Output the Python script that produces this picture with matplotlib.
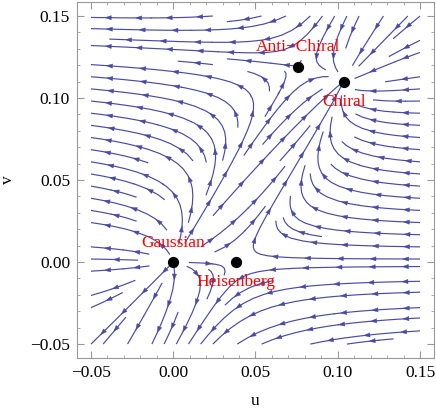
import numpy as np
import matplotlib
matplotlib.use("Agg")
import matplotlib.pyplot as plt
from matplotlib.collections import PolyCollection

# Fixed points of the flow (u, v)
fp_names = ["Gaussian", "Heisenberg", "Anti\u2212Chiral", "Chiral"]
fp_u = [0.0, 0.0384, 0.0756, 0.1036]
fp_v = [0.0, 0.0, 0.119, 0.110]
# label anchor offsets (in data units) relative to each fixed point
lab_du = [0.0, 0.0, 0.0, 0.0]
lab_dv = [0.0118, -0.0122, 0.0118, -0.0125]

# Plot ranges
u_range = [-0.05, 0.15]
v_range = [-0.05, 0.15]
xticks = [-0.05, 0.00, 0.05, 0.10, 0.15]
yticks = [-0.05, 0.00, 0.05, 0.10, 0.15]

# One-loop-type beta functions fitted to the fixed points:
# beta_u = -u + a u^2 + b u v + c v^2 ; beta_v = -v + d v^2 + e u v
a = 1.0 / fp_u[1]
uc, vc = fp_u[3], fp_v[3]
ua, va = fp_u[2], fp_v[2]
d, e = np.linalg.solve([[vc, uc], [va, ua]], [1.0, 1.0])
b, c = np.linalg.solve([[uc * vc, vc * vc], [ua * va, va * va]],
                       [uc - a * uc ** 2, ua - a * ua ** 2])

U, V = np.meshgrid(np.linspace(u_range[0], u_range[1], 200),
                   np.linspace(v_range[0], v_range[1], 200))
bu = -U + a * U ** 2 + b * U * V + c * V ** 2
bv = -V + d * V ** 2 + e * U * V
FU, FV = -bu, -bv

fig = plt.figure(figsize=(4.36, 4.12), dpi=100)
ax = fig.add_axes([0.1766, 0.131, 0.8188, 0.864])
color = (0.29, 0.29, 0.65)

pad = 0.0085
ax.set_xlim(u_range[0] - pad, u_range[1] + pad)
ax.set_ylim(v_range[0] - pad, v_range[1] + pad)

sp = ax.streamplot(U, V, FU, FV, density=0.95, color=color, linewidth=0.85,
                   arrowsize=0.01, arrowstyle='-')

# each segment of the LineCollection is one whole streamline (in flow order);
# put several arrowheads along each one
lines = [np.asarray(s) for s in sp.lines.get_segments()]

spacing = 32.0   # pixels between arrowheads
head_len = 6.0   # pixels
head_half = 2.1  # pixels
inv = ax.transData.inverted()
tris = []
for pts in lines:
    disp = ax.transData.transform(pts)
    dl = np.hypot(*np.diff(disp, axis=0).T)
    keep = np.concatenate([[True], dl > 1e-9])
    disp = disp[keep]
    if len(disp) < 2:
        continue
    dl = np.hypot(*np.diff(disp, axis=0).T)
    cum = np.concatenate([[0], np.cumsum(dl)])
    total = cum[-1]
    if total < 14:
        continue
    n = max(1, int(round(total / spacing)))
    centers = (np.arange(n) + 0.5) * total / n
    for sdist in centers:
        s0, s1 = max(sdist - head_len, 0), min(sdist + 1, total)
        q0 = np.array([np.interp(s0, cum, disp[:, 0]), np.interp(s0, cum, disp[:, 1])])
        q1 = np.array([np.interp(s1, cum, disp[:, 0]), np.interp(s1, cum, disp[:, 1])])
        t = q1 - q0
        nt = np.hypot(*t)
        if nt < 1e-6:
            continue
        t = t / nt
        nrm = np.array([-t[1], t[0]])
        tip = q1
        base = tip - head_len * t
        tri = np.array([tip, base + head_half * nrm, base - head_half * nrm])
        tris.append(inv.transform(tri))

ax.add_collection(PolyCollection(tris, facecolors=[color], edgecolors=[color],
                                 linewidths=0.3, zorder=3))

ax.scatter(fp_u, fp_v, s=50, color='black', zorder=5)
for name, x, y, dx, dy in zip(fp_names, fp_u, fp_v, lab_du, lab_dv):
    ax.text(x + dx, y + dy, name, color='red', fontsize=12.5,
            family='Liberation Serif', ha='center', va='center', zorder=6)

ax.set_xticks(xticks)
ax.set_yticks(yticks)
ax.set_xticklabels([f"{t:.2f}".replace('-', '\u2212') for t in xticks])
ax.set_yticklabels([f"{t:.2f}".replace('-', '\u2212') for t in yticks])
ax.set_xticks(np.arange(-0.05, 0.1501, 0.01), minor=True)
ax.set_yticks(np.arange(-0.05, 0.1501, 0.01), minor=True)
ax.tick_params(which='both', direction='in', top=True, right=True,
               color='#999999')
ax.tick_params(which='major', length=5, pad=5)
ax.tick_params(which='minor', length=2.5)
for lab in ax.get_xticklabels() + ax.get_yticklabels():
    lab.set_family('Liberation Serif')
    lab.set_fontsize(12.5)
for s in ax.spines.values():
    s.set_color('#999999')
ax.set_xlabel('u', family='Liberation Serif', fontsize=12.5, labelpad=9)
ax.set_ylabel('v', family='Liberation Serif', fontsize=12.5, rotation=90,
              labelpad=10)

fig.savefig('out.png', dpi=100)
